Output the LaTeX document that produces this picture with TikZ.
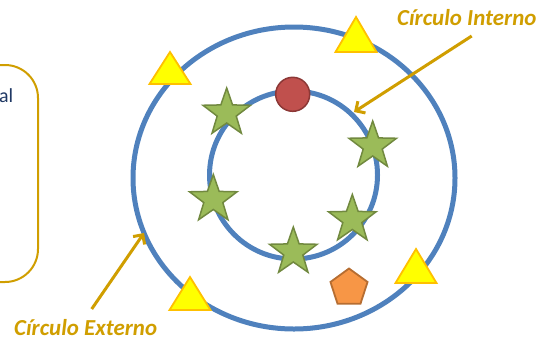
\documentclass[tikz,border=0pt]{standalone}
\usepackage{fontspec}
\setmainfont{Carlito}
\usetikzlibrary{shapes.geometric,arrows.meta}
\definecolor{cblue}{HTML}{4F81BD}
\definecolor{cgold}{HTML}{D09E00}
\definecolor{cnavy}{HTML}{1F3864}
\definecolor{starfill}{HTML}{9BBB59}
\definecolor{stardraw}{HTML}{71893F}
\definecolor{redfill}{HTML}{C0504D}
\definecolor{reddraw}{HTML}{8C3836}
\definecolor{pentfill}{HTML}{F79646}
\definecolor{pentdraw}{HTML}{B66D31}
\definecolor{trifill}{HTML}{FFFF00}
\definecolor{tridraw}{HTML}{FFC000}
\tikzset{
  ring/.style={draw=cblue, line width=5bp},
  starshape/.style={star, star points=5, star point ratio=2.5, minimum size=50bp, inner sep=0pt,
    fill=starfill, draw=stardraw, line width=1.5bp},
  trishape/.style={fill=trifill, draw=tridraw, line width=1.8bp, line join=miter},
  lbl/.style={text=cgold, font=\fontsize{23}{25}\selectfont\bfseries\itshape, inner sep=0pt},
  pointer/.style={draw=cgold, line width=3bp, -{Straight Barb[length=7bp,width=14bp,line width=3bp]}},
}
\begin{document}
\begin{tikzpicture}[x=1bp,y=-1bp]
\useasboundingbox (0,0) rectangle (542,340);
% left box (mostly out of view)
\draw[draw=cgold, line width=2bp, rounded corners=33bp] (-80,65) rectangle (38,282);
\node[anchor=base east, text=cnavy, font=\fontsize{20}{22}\selectfont, inner sep=0pt] (boxtext) at (13.5,102.7) {al};
% circles
\draw[ring] (294,178) ellipse [x radius=161, y radius=151];
\draw[ring] (293.5,175) circle [radius=84];
% triangles
\draw[trishape] (170,52) -- ++(20.5,32) -- ++(-41,0) -- cycle;
\draw[trishape] (356,17) -- ++(20.5,35) -- ++(-41,0) -- cycle;
\draw[trishape] (190,277) -- ++(20.5,33) -- ++(-41,0) -- cycle;
\draw[trishape] (416,249) -- ++(20.5,34) -- ++(-41,0) -- cycle;
% red circle
\node[circle, minimum size=34bp, inner sep=0pt, fill=redfill, draw=reddraw, line width=1.5bp] (redc) at (292.7,94.3) {};
% pentagon
\node[regular polygon, regular polygon sides=5, minimum size=39bp, inner sep=0pt, fill=pentfill, draw=pentdraw, line width=1.8bp] (pent) at (349,288) {};
% stars
\node[starshape] (s1) at (226.7,113) {};
\node[starshape] (s2) at (372.7,146) {};
\node[starshape] (s3) at (213.3,199.5) {};
\node[starshape] (s4) at (352.3,219.5) {};
\node[starshape] (s5) at (293.3,252) {};
% labels
\node[lbl, anchor=base west] (lint) at (397,25) {Círculo Interno};
\node[lbl, anchor=base west] (lext) at (14,335) {Círculo Externo};
\coordinate (intstart) at (471.7,36);
\coordinate (inttip) at (354,112);
\coordinate (extstart) at (91.7,309);
\coordinate (exttip) at (144,233);
\draw[pointer] (intstart) -- (inttip);
\draw[pointer] (extstart) -- (exttip);
\end{tikzpicture}
\end{document}
